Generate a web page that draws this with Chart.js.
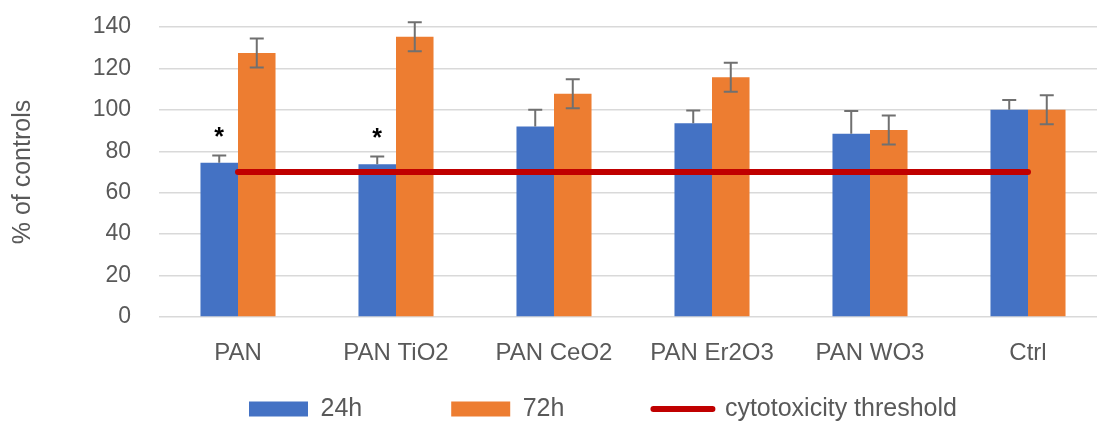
<!DOCTYPE html>
<html>
<head>
<meta charset="utf-8">
<script src="https://cdn.jsdelivr.net/npm/chart.js@4/dist/chart.umd.min.js"></script>
<style>
  html, body { margin: 0; padding: 0; background: #ffffff; overflow: hidden; }
  #wrap { width: 1110px; height: 421px; }
</style>
</head>
<body>
<div id="wrap"><canvas id="c" width="1110" height="421"></canvas></div>
<script>
// ---- data ----
const categories = ['PAN', 'PAN TiO2', 'PAN CeO2', 'PAN Er2O3', 'PAN WO3', 'Ctrl'];
const values24h = [74.5, 73.8, 92, 93.5, 88.5, 100];
const errors24h = [3.5, 3.7, 8, 6.2, 11, 4.8];
const values72h = [127.5, 135.3, 107.8, 115.8, 90.3, 100];
const errors72h = [7, 7, 7, 7, 7, 7];
const thresholdValues = [70, 70, 70, 70, 70, 70];
const significance24h = ['*', '*', '', '', '', ''];
const yTicks = [0, 20, 40, 60, 80, 100, 120, 140];
const seriesNames = ['24h', '72h', 'cytotoxicity threshold'];

const FONT = "'Liberation Sans', Arial, sans-serif";
const TXT = '#595959';

const errorBarPlugin = {
  id: 'errorBars',
  afterDatasetsDraw(chart) {
    const ctx = chart.ctx;
    const y = chart.scales.y;
    ctx.save();
    ctx.strokeStyle = '#707070';
    ctx.lineWidth = 2;
    const sets = [[0, errors24h, false], [1, errors72h, true]];
    sets.forEach(([di, errs, both]) => {
      const meta = chart.getDatasetMeta(di);
      const vals = chart.data.datasets[di].data;
      meta.data.forEach((bar, i) => {
        const v = vals[i];
        const yTop = y.getPixelForValue(v + errs[i]);
        const yBot = both ? y.getPixelForValue(v - errs[i]) : y.getPixelForValue(v);
        const x = bar.x;
        const cw = 7;
        ctx.beginPath();
        ctx.moveTo(x, yTop); ctx.lineTo(x, yBot);
        ctx.moveTo(x - cw, yTop); ctx.lineTo(x + cw, yTop);
        if (both) { ctx.moveTo(x - cw, yBot); ctx.lineTo(x + cw, yBot); }
        ctx.stroke();
      });
    });
    // significance markers
    const meta0 = chart.getDatasetMeta(0);
    ctx.fillStyle = '#000000';
    ctx.font = 'bold 25px ' + FONT;
    ctx.textAlign = 'center';
    ctx.textBaseline = 'alphabetic';
    meta0.data.forEach((bar, i) => {
      const s = significance24h[i];
      if (!s) return;
      const yTop = y.getPixelForValue(values24h[i] + errors24h[i]);
      ctx.fillText(s, bar.x, yTop - 10);
    });
    ctx.restore();
  }
};

const legendPlacePlugin = {
  id: 'legendPlace',
  beforeLayout(chart) {
    const lg = chart.legend;
    if (lg && !lg._patchedFit) {
      const fit = lg.fit;
      lg.fit = function () { fit.call(this); this.height = 40; };
      lg._patchedFit = true;
    }
  },
  beforeDraw(chart) {
    const lg = chart.legend;
    if (!lg) return;
    const pad = lg.options.labels.padding;
    lg.left = 249 - pad;
    lg.top = 409 - 12.5 - pad;
  }
};

new Chart(document.getElementById('c'), {
  data: {
    labels: categories,
    datasets: [
      { type: 'bar', label: seriesNames[0], data: values24h, backgroundColor: '#4472C4', borderWidth: 0,
        categoryPercentage: 0.475, barPercentage: 1.0 },
      { type: 'bar', label: seriesNames[1], data: values72h, backgroundColor: '#ED7D31', borderWidth: 0,
        categoryPercentage: 0.475, barPercentage: 1.0 },
      { type: 'line', label: seriesNames[2], data: thresholdValues, borderColor: '#C00000', backgroundColor: '#C00000',
        borderWidth: 6, pointRadius: 0, borderCapStyle: 'round', tension: 0, order: -1 }
    ]
  },
  options: {
    responsive: false,
    animation: false,
    layout: { padding: { top: 27, right: 3, left: 0, bottom: 0 } },
    plugins: {
      tooltip: { enabled: false },
      title: { display: false },
      legend: {
        position: 'bottom',
        align: 'start',
        labels: {
          usePointStyle: true,
          pointStyleWidth: 59,
          boxHeight: 15,
          padding: 89,
          color: TXT,
          font: { family: FONT, size: 25 },
          generateLabels(chart) {
            return chart.data.datasets.map((ds, i) => ({
              text: ds.label,
              fillStyle: ds.type === 'line' ? 'rgba(0,0,0,0)' : ds.backgroundColor,
              strokeStyle: ds.type === 'line' ? ds.borderColor : ds.backgroundColor,
              lineWidth: ds.type === 'line' ? 6 : 0,
              lineCap: 'round',
              pointStyle: ds.type === 'line' ? 'line' : 'rect',
              fontColor: TXT,
              hidden: false,
              datasetIndex: i
            }));
          }
        }
      }
    },
    scales: {
      x: {
        grid: { display: false, drawTicks: false },
        border: { display: false },
        ticks: { color: TXT, font: { family: FONT, size: 24 }, padding: 22, maxRotation: 0 },
        afterFit(scale) { scale.height = 64; }
      },
      y: {
        min: 0,
        max: 140,
        afterBuildTicks(scale) { scale.ticks = yTicks.map(v => ({ value: v })); },
        grid: { color: '#D9D9D9', lineWidth: 1.5, drawTicks: false },
        border: { display: false },
        ticks: { color: TXT, font: { family: FONT, size: 23 }, padding: 28 },
        title: { display: true, text: '% of controls', color: TXT, font: { family: FONT, size: 25 },
          padding: { top: 8, bottom: 0 } },
        afterFit(scale) { scale.width = 159; scale.paddingTop = 0; scale.paddingBottom = 0; }
      }
    }
  },
  plugins: [errorBarPlugin, legendPlacePlugin]
});
</script>
</body>
</html>
